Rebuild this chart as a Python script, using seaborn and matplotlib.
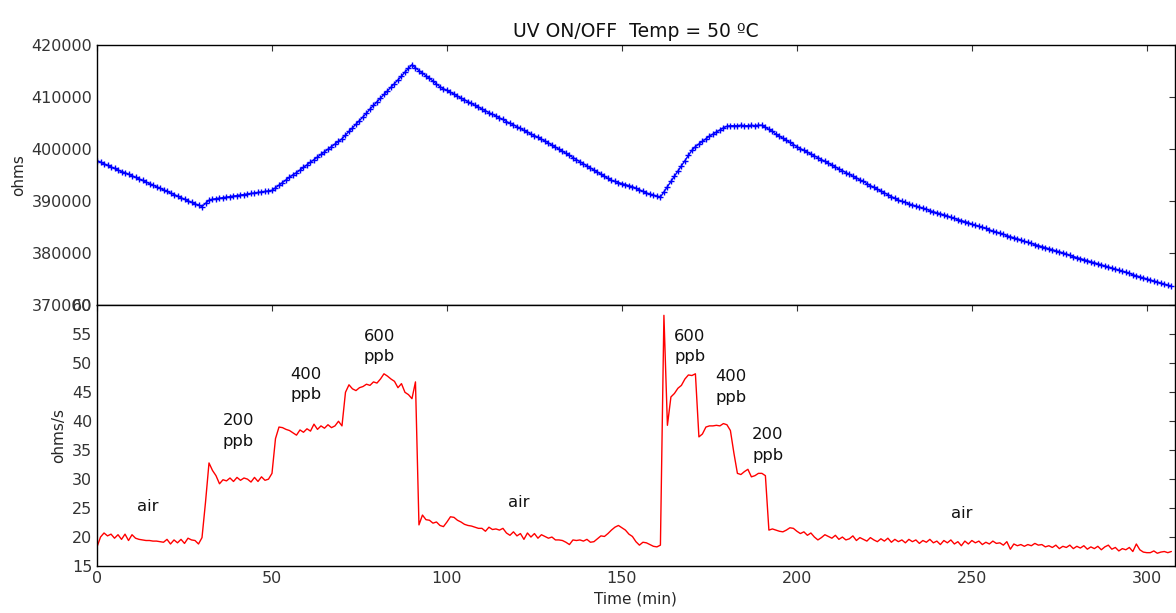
import numpy as np
import pandas as pd
import seaborn as sns
import matplotlib
matplotlib.use("Agg")
import matplotlib.pyplot as plt

# Sensor resistance (kOhm), one reading per minute
resistance_kohm = [
    397.8, 397.5, 397.2, 396.9, 396.6, 396.3, 396.0, 395.7, 395.5, 395.2,
    394.9, 394.6, 394.3, 394.0, 393.7, 393.4, 393.1, 392.8, 392.5, 392.2,
    391.9, 391.6, 391.3, 391.0, 390.7, 390.4, 390.1, 389.8, 389.5, 389.3,
    389.0, 389.6, 390.2, 390.4, 390.5, 390.6, 390.7, 390.8, 390.9, 391.0,
    391.1, 391.2, 391.3, 391.4, 391.5, 391.6, 391.7, 391.8, 391.9, 392.0,
    392.1, 392.6, 393.1, 393.6, 394.1, 394.6, 395.1, 395.5, 396.0, 396.5,
    397.0, 397.5, 398.0, 398.5, 399.0, 399.5, 400.0, 400.5, 401.0, 401.5,
    402.0, 402.7, 403.4, 404.1, 404.8, 405.5, 406.2, 406.9, 407.7, 408.4,
    409.1, 409.8, 410.5, 411.2, 411.9, 412.6, 413.3, 414.0, 414.8, 415.5,
    416.2, 415.6, 415.1, 414.6, 414.1, 413.6, 413.1, 412.5, 412.0, 411.6,
    411.3, 410.9, 410.6, 410.2, 409.8, 409.5, 409.1, 408.8, 408.4, 408.1,
    407.7, 407.4, 407.0, 406.7, 406.4, 406.0, 405.7, 405.3, 405.0, 404.7,
    404.3, 404.0, 403.6, 403.3, 402.9, 402.6, 402.3, 401.9, 401.6, 401.2,
    400.8, 400.4, 400.0, 399.6, 399.2, 398.8, 398.4, 398.0, 397.6, 397.2,
    396.8, 396.4, 396.0, 395.6, 395.2, 394.8, 394.4, 394.0, 393.8, 393.6,
    393.4, 393.2, 393.0, 392.8, 392.5, 392.2, 391.9, 391.6, 391.4, 391.2,
    391.0, 390.8, 391.8, 392.8, 393.8, 394.8, 395.8, 396.8, 397.8, 398.8,
    399.8, 400.5, 401.0, 401.5, 402.0, 402.5, 402.9, 403.3, 403.7, 404.1,
    404.4, 404.5, 404.5, 404.5, 404.6, 404.5, 404.5, 404.6, 404.5, 404.6,
    404.6, 404.2, 403.8, 403.4, 402.9, 402.5, 402.1, 401.7, 401.3, 400.9,
    400.5, 400.1, 399.8, 399.4, 399.1, 398.7, 398.4, 398.0, 397.7, 397.3,
    397.0, 396.6, 396.2, 395.9, 395.5, 395.2, 394.8, 394.5, 394.1, 393.8,
    393.4, 393.0, 392.7, 392.3, 392.0, 391.6, 391.3, 390.9, 390.6, 390.2,
    390.0, 389.8, 389.5, 389.3, 389.1, 388.9, 388.7, 388.5, 388.2, 388.0,
    387.8, 387.6, 387.4, 387.2, 386.9, 386.7, 386.5, 386.3, 386.1, 385.9,
    385.6, 385.4, 385.2, 385.0, 384.8, 384.5, 384.3, 384.1, 383.9, 383.7,
    383.4, 383.2, 383.0, 382.8, 382.6, 382.3, 382.1, 381.9, 381.7, 381.5,
    381.3, 381.1, 380.9, 380.7, 380.5, 380.3, 380.1, 379.9, 379.6, 379.4,
    379.2, 379.0, 378.8, 378.6, 378.4, 378.2, 378.0, 377.8, 377.6, 377.4,
    377.2, 377.0, 376.8, 376.6, 376.4, 376.2, 375.9, 375.7, 375.5, 375.3,
    375.1, 374.9, 374.7, 374.5, 374.3, 374.1, 373.9, 373.7,
]

# Rate of change of resistance (ohms/s), one reading per minute
rate_ohms_s = [
    18.3, 20.0, 20.7, 20.2, 20.5, 19.8, 20.4, 19.6, 20.5, 19.4,
    20.4, 19.8, 19.6, 19.5, 19.4, 19.4, 19.3, 19.3, 19.2, 19.1,
    19.6, 18.8, 19.5, 19.0, 19.6, 18.9, 19.8, 19.5, 19.4, 18.8,
    19.9, 26.0, 32.8, 31.5, 30.6, 29.2, 29.9, 29.7, 30.2, 29.6,
    30.3, 29.8, 30.2, 30.0, 29.5, 30.3, 29.6, 30.4, 29.8, 30.0,
    31.0, 37.0, 39.0, 38.9, 38.6, 38.4, 38.0, 37.6, 38.5, 38.1,
    38.7, 38.3, 39.5, 38.6, 39.2, 38.8, 39.4, 38.9, 39.2, 40.0,
    39.2, 45.0, 46.3, 45.6, 45.3, 45.8, 46.0, 46.4, 46.2, 46.8,
    46.6, 47.3, 48.2, 47.8, 47.3, 46.9, 45.8, 46.5, 45.0, 44.6,
    43.9, 46.8, 22.1, 23.8, 23.0, 22.9, 22.4, 22.6, 22.0, 21.8,
    22.6, 23.5, 23.4, 22.9, 22.6, 22.2, 22.0, 21.9, 21.7, 21.5,
    21.5, 21.0, 21.7, 21.3, 21.4, 21.2, 21.5, 20.7, 20.3, 20.9,
    20.2, 20.6, 19.6, 20.7, 20.0, 20.6, 19.8, 20.4, 20.1, 19.8,
    20.0, 19.5, 19.5, 19.4, 19.1, 18.7, 19.5, 19.4, 19.5, 19.3,
    19.6, 19.1, 19.2, 19.7, 20.2, 20.1, 20.6, 21.2, 21.7, 22.0,
    21.6, 21.2, 20.5, 20.1, 19.2, 18.6, 19.1, 19.0, 18.7, 18.4,
    18.3, 18.6, 58.3, 39.3, 44.2, 44.8, 45.7, 46.2, 47.3, 48.0,
    47.9, 48.2, 37.3, 37.8, 39.0, 39.2, 39.2, 39.3, 39.2, 39.6,
    39.4, 38.4, 34.5, 31.0, 30.8, 31.3, 31.7, 30.4, 30.6, 31.0,
    31.0, 30.6, 21.2, 21.4, 21.2, 21.0, 20.9, 21.2, 21.6, 21.5,
    21.0, 20.6, 20.9, 20.3, 20.7, 20.0, 19.5, 19.9, 20.4, 20.1,
    19.8, 20.3, 19.6, 20.0, 19.5, 19.7, 20.2, 19.4, 19.9, 19.6,
    19.3, 19.9, 19.5, 19.2, 19.7, 19.3, 19.8, 19.1, 19.6, 19.2,
    19.5, 19.0, 19.6, 19.2, 19.5, 18.9, 19.4, 19.1, 19.6, 19.0,
    19.3, 18.7, 19.4, 19.0, 19.5, 18.8, 19.2, 18.5, 19.3, 18.8,
    19.4, 19.0, 19.3, 18.7, 19.1, 18.8, 19.3, 18.9, 19.0, 18.6,
    19.2, 17.9, 18.8, 18.5, 18.7, 18.4, 18.7, 18.5, 18.9, 18.6,
    18.7, 18.3, 18.5, 18.2, 18.6, 18.0, 18.4, 18.2, 18.6, 18.0,
    18.4, 18.1, 18.5, 17.9, 18.3, 18.0, 18.4, 17.8, 18.3, 18.6,
    17.9, 18.2, 17.6, 18.0, 17.8, 18.2, 17.5, 18.8, 17.8, 17.4,
    17.3, 17.3, 17.6, 17.2, 17.4, 17.5, 17.3, 17.5,
]

# Gas-step annotations: (label, time in min, ohms/s)
step_labels = ["air", "200\nppb", "400\nppb", "600\nppb", "air",
               "600\nppb", "400\nppb", "200\nppb", "air"]
step_times = [14.6, 40.3, 59.7, 80.6, 120.6, 169.4, 181.1, 191.7, 247.1]
step_levels = [25.2, 38.3, 46.4, 52.9, 26.0, 52.9, 45.9, 35.9, 24.0]

time_min = np.arange(len(resistance_kohm))
df = pd.DataFrame({
    "time": time_min,
    "ohms": np.array(resistance_kohm) * 1000.0,
    "rate": rate_ohms_s,
})

sns.set_style("white")
plt.rcParams.update({
    "font.family": ["DejaVu Sans"],
    "xtick.direction": "in",
    "ytick.direction": "in",
    "xtick.top": True,
    "ytick.right": True,
    "xtick.major.size": 4,
    "ytick.major.size": 4,
    "xtick.major.width": 0.8,
    "ytick.major.width": 0.8,
    "axes.edgecolor": "black",
    "axes.linewidth": 1.0,
    "xtick.color": "#333333",
    "ytick.color": "#333333",
    "xtick.labelsize": 11.5,
    "ytick.labelsize": 11.5,
})

fig = plt.figure(figsize=(11.76, 6.13), dpi=100)
gs = fig.add_gridspec(2, 1, left=0.0825, right=0.999, top=0.9266,
                      bottom=0.0767, hspace=0)
ax_top = fig.add_subplot(gs[0])
ax_bot = fig.add_subplot(gs[1], sharex=ax_top)

sns.lineplot(data=df, x="time", y="ohms", ax=ax_top, color="blue",
             linewidth=1.0, marker="+", markersize=4, markeredgewidth=1.0,
             markeredgecolor="blue")
sns.lineplot(data=df, x="time", y="rate", ax=ax_bot, color="red",
             linewidth=1.0)

ax_top.set_xlim(0, 308)
ax_top.set_ylim(370000, 420000)
ax_top.set_yticks(np.arange(370000, 420001, 10000))
ax_top.tick_params(labelbottom=False)
ax_top.set_xlabel("")
ax_top.set_ylabel("ohms", fontsize=11)
ax_top.set_title("UV ON/OFF  Temp = 50 ºC", fontsize=13.5, color="#111111")

ax_bot.set_ylim(15, 60)
ax_bot.set_yticks(np.arange(15, 61, 5))
ax_bot.set_xticks(np.arange(0, 301, 50))
ax_bot.set_xlabel("Time (min)", fontsize=11)
ax_bot.set_ylabel("ohms/s", fontsize=11)

for lab, t, v in zip(step_labels, step_times, step_levels):
    ax_bot.text(t, v, lab, ha="center", va="center", fontsize=11.8,
                linespacing=1.45, color="#111111")

for ax in (ax_top, ax_bot):
    for sp in ax.spines.values():
        sp.set_visible(True)
        sp.set_color("black")

fig.savefig("out.png", dpi=100)
